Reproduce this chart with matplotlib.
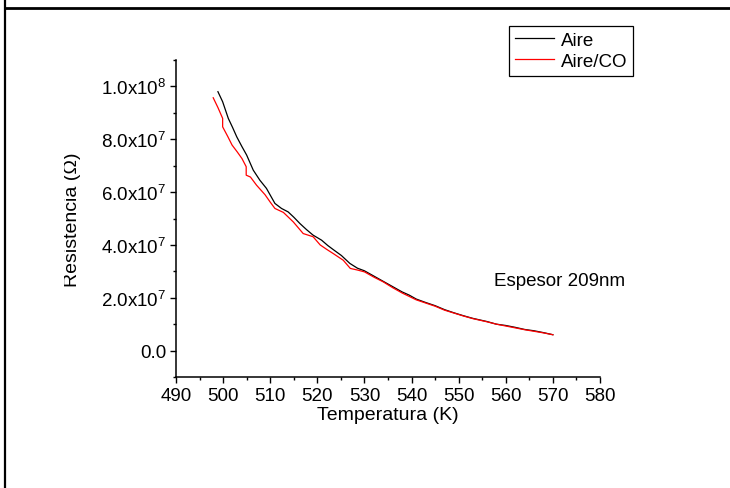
import math
import matplotlib
matplotlib.use("Agg")
import matplotlib.pyplot as plt
from matplotlib.lines import Line2D
from matplotlib.transforms import Bbox, TransformedBbox
from matplotlib.ticker import FixedLocator, MultipleLocator, FuncFormatter

plt.rcParams['font.family'] = ['Liberation Sans', 'DejaVu Sans']
plt.rcParams['mathtext.default'] = 'regular'

# Data (temperature K, resistance Ohm)
aire_t = [498.9, 499.9, 501.1, 502.0, 502.9, 504.0, 505.0, 506.4, 507.8, 509.2, 511.0, 512.4,
          513.8, 515.0, 516.3, 517.7, 519.1, 520.9, 522.2, 523.4, 525.1, 526.9, 528.5, 530.0,
          532.0, 534.0, 536.0, 538.0, 539.5, 541.0, 543.0, 545.0, 547.0, 549.0, 551.0, 553.0,
          556.0, 558.0, 560.0, 562.0, 564.0, 566.0, 568.0, 570.0]
aire_r = [9.80e7, 9.42e7, 8.79e7, 8.45e7, 8.09e7, 7.72e7, 7.40e7, 6.83e7, 6.45e7, 6.14e7,
          5.57e7, 5.38e7, 5.25e7, 5.05e7, 4.81e7, 4.58e7, 4.37e7, 4.18e7, 3.98e7, 3.82e7,
          3.60e7, 3.30e7, 3.12e7, 3.02e7, 2.82e7, 2.62e7, 2.42e7, 2.22e7, 2.10e7, 1.95e7,
          1.82e7, 1.70e7, 1.55e7, 1.43e7, 1.32e7, 1.22e7, 1.10e7, 1.00e7, 0.95e7, 0.88e7,
          0.80e7, 0.75e7, 0.68e7, 0.60e7]
co_t = [497.9, 498.9, 499.9, 499.9, 501.0, 501.9, 503.0, 504.0, 504.9, 504.9, 505.8, 507.1,
        508.0, 508.9, 510.0, 511.0, 512.8, 514.9, 517.0, 519.1, 520.6, 522.0, 523.4, 525.5,
        527.0, 528.5, 530.0, 532.0, 534.0, 536.0, 538.0, 539.5, 541.0, 543.0, 545.0, 547.0,
        549.0, 551.0, 553.0, 556.0, 558.0, 560.0, 562.0, 564.0, 566.0, 568.0, 570.0]
co_r = [9.57e7, 9.20e7, 8.79e7, 8.47e7, 8.10e7, 7.78e7, 7.52e7, 7.27e7, 6.96e7, 6.64e7,
        6.57e7, 6.26e7, 6.08e7, 5.90e7, 5.62e7, 5.38e7, 5.23e7, 4.87e7, 4.43e7, 4.31e7,
        4.00e7, 3.83e7, 3.67e7, 3.42e7, 3.11e7, 3.05e7, 2.98e7, 2.78e7, 2.60e7, 2.38e7,
        2.18e7, 2.05e7, 1.92e7, 1.80e7, 1.68e7, 1.53e7, 1.42e7, 1.31e7, 1.21e7, 1.09e7,
        1.00e7, 0.93e7, 0.86e7, 0.79e7, 0.73e7, 0.67e7, 0.60e7]

x_ticks = [490, 500, 510, 520, 530, 540, 550, 560, 570, 580]
y_ticks = [0, 2e7, 4e7, 6e7, 8e7, 1e8]
series_labels = ["Aire", "Aire/CO"]
annotation = "Espesor 209nm"
x_label = "Temperatura (K)"
y_label = "Resistencia (Ω)"

W, H = 730, 489
fig = plt.figure(figsize=(W / 100, H / 100), dpi=100)
ax = fig.add_axes([176 / W, 1 - 378 / H, (600 - 176) / W, (378 - 61) / H])

l1, = ax.plot(aire_t, aire_r, color='black', lw=0.9)
l2, = ax.plot(co_t, co_r, color='#ff0000', lw=0.9)

ax.set_xlim(490, 580)
ax.set_ylim(-1e7, 1.1e8)
ax.spines['top'].set_visible(False)
ax.spines['right'].set_visible(False)
for s in ('left', 'bottom'):
    ax.spines[s].set_linewidth(1.1)

ax.xaxis.set_major_locator(FixedLocator(x_ticks))
ax.xaxis.set_minor_locator(MultipleLocator(5))
ax.yaxis.set_major_locator(FixedLocator(y_ticks))
ax.yaxis.set_minor_locator(MultipleLocator(1e7))


def yfmt(v, pos):
    if v == 0:
        return "0.0"
    e = int(math.floor(math.log10(abs(v)) + 1e-9))
    m = v / 10 ** e
    return r"$\mathregular{%.1fx10^{%d}}$" % (m, e)


ax.yaxis.set_major_formatter(FuncFormatter(yfmt))
ax.tick_params(which='major', direction='out', length=4.5, width=1.0, labelsize=13.5, pad=2.5)
ax.tick_params(which='minor', direction='out', length=2.5, width=1.0)

ax.set_xlabel(x_label, fontsize=14, labelpad=1.5)
ylab = ax.set_ylabel(y_label, fontsize=14, labelpad=14.8)

ax.text(571.5, 2.65e7, annotation, fontsize=13.5, ha='center', va='center')

leg = fig.legend([l1, l2], series_labels, loc='upper left',
                 bbox_to_anchor=(509 / W, 1 - 27 / H), bbox_transform=fig.transFigure,
                 borderaxespad=0, fancybox=False, edgecolor='black', framealpha=1,
                 fontsize=13.5, handlelength=2.1, handletextpad=0.35, labelspacing=0.22,
                 borderpad=0.3)
leg.get_frame().set_linewidth(0.9)

# frame lines of the surrounding cell
fig.add_artist(Line2D([5 / W, 1], [1 - 8.7 / H, 1 - 8.7 / H], transform=fig.transFigure,
                      color='black', lw=2.0))
fig.add_artist(Line2D([5 / W, 5 / W], [0, 1], transform=fig.transFigure,
                      color='black', lw=1.6))

# clip the y label on its left side (as in reference)
ylab.set_clip_box(TransformedBbox(Bbox([[63.5 / W, 0], [1, 1]]), fig.transFigure))
ylab.set_clip_on(True)

fig.savefig("out.png", dpi=100)
